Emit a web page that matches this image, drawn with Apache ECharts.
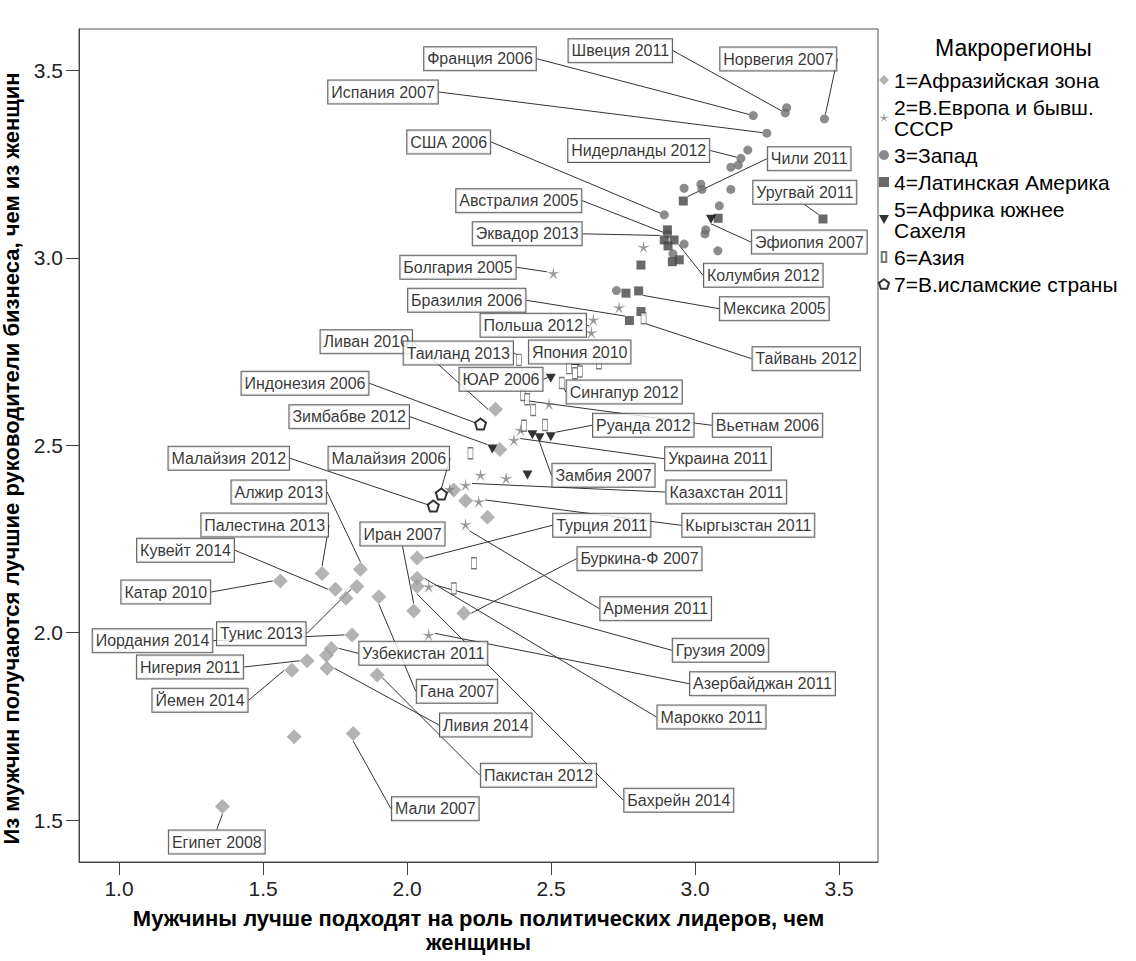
<!DOCTYPE html>
<html><head><meta charset="utf-8">
<script src="https://cdn.jsdelivr.net/npm/echarts@6/dist/echarts.min.js"></script>
<style>html,body{margin:0;padding:0;background:#fff}#c{width:1136px;height:961px}</style>
</head><body><div id="c"></div>
<script>
// ---- data ----
const xTicks = [1.0, 1.5, 2.0, 2.5, 3.0, 3.5];
const yTicks = [1.5, 2.0, 2.5, 3.0, 3.5];
const regionNames = ['1=Афразийская зона', '2=В.Европа и бывш.\nСССР', '3=Запад', '4=Латинская Америка', '5=Африка южнее\nСахеля', '6=Азия', '7=В.исламские страны'];

const afrasian = [
 [2.307,2.596,'Ливан 2010'],[2.322,2.489,''],[2.162,2.381,''],[2.203,2.352,''],[2.279,2.308,''],
 [2.035,2.199,'Турция 2011'],[2.035,2.145,'Марокко 2011'],[2.035,2.123,'Бахрейн 2014'],[2.023,2.058,'Иран 2007'],
 [2.197,2.052,'Буркина-Ф 2007'],[1.838,2.169,'Алжир 2013'],[1.705,2.158,'Палестина 2013'],[1.560,2.138,'Катар 2010'],
 [1.751,2.116,'Кувейт 2014'],[1.826,2.123,'Тунис 2013'],[1.788,2.092,''],[1.902,2.096,'Гана 2007'],
 [1.809,1.994,'Иордания 2014'],[1.737,1.958,'Узбекистан 2011'],[1.720,1.940,''],[1.653,1.925,'Нигерия 2011'],
 [1.722,1.905,'Ливия 2014'],[1.600,1.900,'Йемен 2014'],[1.896,1.887,'Пакистан 2012'],[1.608,1.722,''],
 [1.813,1.731,'Мали 2007'],[1.359,1.536,'Египет 2008']
];
const eastEurope = [
 [2.821,3.029,''],[2.508,2.959,'Болгария 2005'],[2.736,2.868,''],[2.647,2.835,'Польша 2012'],[2.640,2.801,''],
 [2.493,2.610,''],[2.394,2.541,''],[2.371,2.514,'Украина 2011'],[2.255,2.421,''],[2.344,2.412,''],
 [2.203,2.394,'Казахстан 2011'],[2.148,2.383,''],[2.249,2.350,'Кыргызстан 2011'],[2.203,2.289,'Армения 2011'],
 [2.075,2.123,'Грузия 2009'],[2.075,1.994,'Азербайджан 2011']
];
const west = [
 [3.202,3.380,'Франция 2006'],[3.318,3.401,''],[3.313,3.387,'Швеция 2011'],[3.449,3.371,'Норвегия 2007'],
 [3.249,3.333,'Испания 2007'],[3.183,3.288,''],[3.159,3.266,'Нидерланды 2012'],[3.150,3.248,''],[3.124,3.242,''],
 [2.962,3.186,''],[3.020,3.197,''],[3.024,3.183,''],[3.124,3.183,''],[3.084,3.139,''],[2.893,3.115,'США 2006'],
 [3.037,3.075,''],[3.034,3.064,''],[2.962,3.037,''],[3.079,3.019,''],[2.904,3.064,'Австралия 2005'],
 [2.727,2.913,''],[2.923,3.011,'']
];
const latinAmerica = [
 [2.959,3.152,'Чили 2011'],[3.444,3.104,'Уругвай 2011'],[3.080,3.106,''],[2.904,3.075,''],
 [2.893,3.048,'Эквадор 2013'],[2.927,3.048,'Колумбия 2012'],[2.906,3.032,''],[2.921,2.990,''],[2.945,2.995,''],
 [2.812,2.981,''],[2.804,2.912,'Мексика 2005'],[2.760,2.906,''],[2.772,2.833,'Бразилия 2006'],[2.812,2.857,'']
];
const southSahel = [
 [3.055,3.103,'Эфиопия 2007'],[2.499,2.679,'ЮАР 2006'],[2.499,2.523,'Руанда 2012'],[2.460,2.520,'Замбия 2007'],
 [2.435,2.528,''],[2.296,2.490,'Зимбабве 2012'],[2.418,2.421,'']
];
const asia = [
 [2.821,2.839,'Тайвань 2012'],[2.388,2.728,'Таиланд 2013'],[2.562,2.706,'Япония 2010'],[2.583,2.692,''],
 [2.600,2.697,''],[2.666,2.719,''],[2.537,2.666,'Сингапур 2012'],[2.403,2.634,'Вьетнам 2006'],[2.417,2.623,''],
 [2.438,2.594,''],[2.406,2.552,''],[2.479,2.554,''],[2.220,2.479,''],[2.232,2.185,''],[2.162,2.118,'']
];
const islamic = [
 [2.255,2.557,'Индонезия 2006'],[2.119,2.370,'Малайзия 2006'],[2.091,2.338,'Малайзия 2012']
];

// ---- label box placement (pixel centres) ----
const labelPos = {
 'Франция 2006':[480,58.7],'Швеция 2011':[620.3,50.7],'Норвегия 2007':[778.3,59],'Испания 2007':[383,92],
 'США 2006':[448.7,142],'Нидерланды 2012':[638.7,150.5],'Чили 2011':[809.2,158.8],'Австралия 2005':[518.8,200.7],
 'Уругвай 2011':[804.8,192.3],'Эквадор 2013':[527.2,233.8],'Эфиопия 2007':[809.3,242],'Болгария 2005':[458,267.3],
 'Колумбия 2012':[763.3,275.3],'Бразилия 2006':[466.8,300.3],'Мексика 2005':[774.3,308.7],'Польша 2012':[533.3,325.3],
 'Тайвань 2012':[806.2,358.7],'Ливан 2010':[366.3,341.7],'Таиланд 2013':[458.3,353],'Япония 2010':[579.7,352],
 'ЮАР 2006':[501,379.3],'Сингапур 2012':[624.2,392],'Индонезия 2006':[305,383.3],'Вьетнам 2006':[767.5,425.3],
 'Зимбабве 2012':[349.2,416.7],'Руанда 2012':[643.3,425.3],'Украина 2011':[718,458.7],'Малайзия 2012':[228.8,458.3],
 'Малайзия 2006':[388.8,458.3],'Замбия 2007':[603.5,475.3],'Алжир 2013':[278.8,492],'Казахстан 2011':[726.3,492],
 'Палестина 2013':[264.7,525],'Кыргызстан 2011':[748.3,525.3],'Иран 2007':[402.5,534],'Турция 2011':[601.8,525.3],
 'Кувейт 2014':[185.5,550.3],'Буркина-Ф 2007':[639.5,558.7],'Катар 2010':[165.8,592],'Армения 2011':[655.7,608.7],
 'Тунис 2013':[261.3,633.7],'Иордания 2014':[152.5,640.7],'Грузия 2009':[720.5,650.3],'Узбекистан 2011':[423.3,653.3],
 'Нигерия 2011':[190,667],'Азербайджан 2011':[762.5,683.7],'Гана 2007':[457,691.3],'Йемен 2014':[200,700.3],
 'Марокко 2011':[711.5,717],'Ливия 2014':[485.8,725],'Пакистан 2012':[538.5,775.3],'Бахрейн 2014':[678.8,800.3],
 'Мали 2007':[435.3,808.7],'Египет 2008':[216.8,842]
};

// ---- symbols ----
function polyPath(n, inner){
  const pts=[]; const k = inner ? 2*n : n;
  for(let i=0;i<k;i++){
    const a=(-90+i*360/k)*Math.PI/180; const r=(inner && i%2)?inner:1;
    pts.push((50+50*r*Math.cos(a)).toFixed(2)+','+(50+50*r*Math.sin(a)).toFixed(2));
  }
  return 'path://M'+pts.join('L')+'Z';
}
const starSym = polyPath(5, 0.24);
const pentSym = polyPath(5, 0);
const triDown = 'path://M0,0L10,0L5,9Z';
const thinRect = 'path://M0,0L5,0L5,11L0,11Z';

const FONT = '"Liberation Sans", Arial, sans-serif';
const labelStyle = {
  show: true, formatter: '{b}', color: '#000', fontSize: 16, fontFamily: FONT,
  backgroundColor: '#fff', borderColor: '#333', borderWidth: 1, padding: [3, 3, 2, 3], lineHeight: 18
};
function layoutFn(p){
  const pos = labelPos[p.text];
  if(!pos) return {};
  return { x: pos[0], y: pos[1], align: 'center', verticalAlign: 'middle' };
}
function mk(name, arr, opts){
  return Object.assign({
    type: 'scatter', name: name,
    data: arr.map(d => ({ value: [d[0], d[1]], name: d[2], label: { show: !!d[2] }, labelLine: { show: !!d[2] } })),
    label: labelStyle,
    labelLine: { show: true, lineStyle: { color: '#333', width: 1 } },
    labelLayout: layoutFn,
    emphasis: { disabled: true }
  }, opts);
}

const series = [
  mk(regionNames[0], afrasian, { symbol: 'diamond', symbolSize: 15, itemStyle: { color: '#a0a0a0' } }),
  mk(regionNames[1], eastEurope, { symbol: starSym, symbolSize: 13, itemStyle: { color: '#7c7c7c' } }),
  mk(regionNames[2], west, { symbol: 'circle', symbolSize: 9, itemStyle: { color: '#6e6e6e' } }),
  mk(regionNames[3], latinAmerica, { symbol: 'rect', symbolSize: 9, itemStyle: { color: '#434343' } }),
  mk(regionNames[4], southSahel, { symbol: triDown, symbolSize: [10, 9], itemStyle: { color: '#000' } }),
  mk(regionNames[5], asia, { symbol: thinRect, symbolSize: [5, 11], itemStyle: { color: '#fff', borderColor: '#555', borderWidth: 1 } }),
  mk(regionNames[6], islamic, { symbol: pentSym, symbolSize: 11, itemStyle: { color: '#fff', borderColor: '#000', borderWidth: 2 } })
];

const chart = echarts.init(document.getElementById('c'), null, { renderer: 'svg' });
chart.setOption({
  animation: false,
  backgroundColor: '#fff',
  title: { text: 'Макрорегионы', left: 935, top: 36, padding: 0,
    textStyle: { fontSize: 23, fontWeight: 'normal', color: '#000', fontFamily: FONT } },
  legend: {
    orient: 'vertical', left: 878, top: 69.5, padding: 0, itemGap: 6, itemWidth: 10, itemHeight: 10,
    selectedMode: false,
    textStyle: { fontSize: 21, lineHeight: 21, color: '#000', fontFamily: FONT },
    data: regionNames.map((n, i) => i === 5 ? { name: n, icon: thinRect } : { name: n })
  },
  grid: { left: 79, top: 29, right: 258, bottom: 99, show: true, borderColor: '#555', borderWidth: 1, containLabel: false, outerBoundsMode: 'none' },
  xAxis: {
    type: 'value', min: 0.861, max: 3.635,
    name: 'Мужчины лучше подходят на роль политических лидеров, чем\nженщины',
    nameLocation: 'middle', nameGap: 44,
    nameTextStyle: { fontSize: 22, fontWeight: 'bold', lineHeight: 24, color: '#000', fontFamily: FONT },
    axisLine: { show: true, lineStyle: { color: '#444', width: 1 } },
    axisTick: { show: true, inside: false, length: 13, lineStyle: { color: '#444' }, customValues: xTicks },
    axisLabel: { fontSize: 21, color: '#222', fontFamily: FONT, margin: 16, customValues: xTicks, formatter: v => v.toFixed(1) },
    splitLine: { show: false }
  },
  yAxis: {
    type: 'value', min: 1.388, max: 3.611,
    name: 'Из мужчин получаются лучшие руководители бизнеса, чем из женщин',
    nameLocation: 'middle', nameGap: 47,
    nameTextStyle: { fontSize: 22, fontWeight: 'bold', color: '#000', fontFamily: FONT, padding: [0, 26, 0, 0] },
    axisLine: { show: true, lineStyle: { color: '#444', width: 1 } },
    axisTick: { show: true, inside: false, length: 13, lineStyle: { color: '#444' }, customValues: yTicks },
    axisLabel: { fontSize: 21, color: '#222', fontFamily: FONT, margin: 16, customValues: yTicks, formatter: v => v.toFixed(1) },
    splitLine: { show: false }
  },
  series: series
});
</script>
</body></html>
